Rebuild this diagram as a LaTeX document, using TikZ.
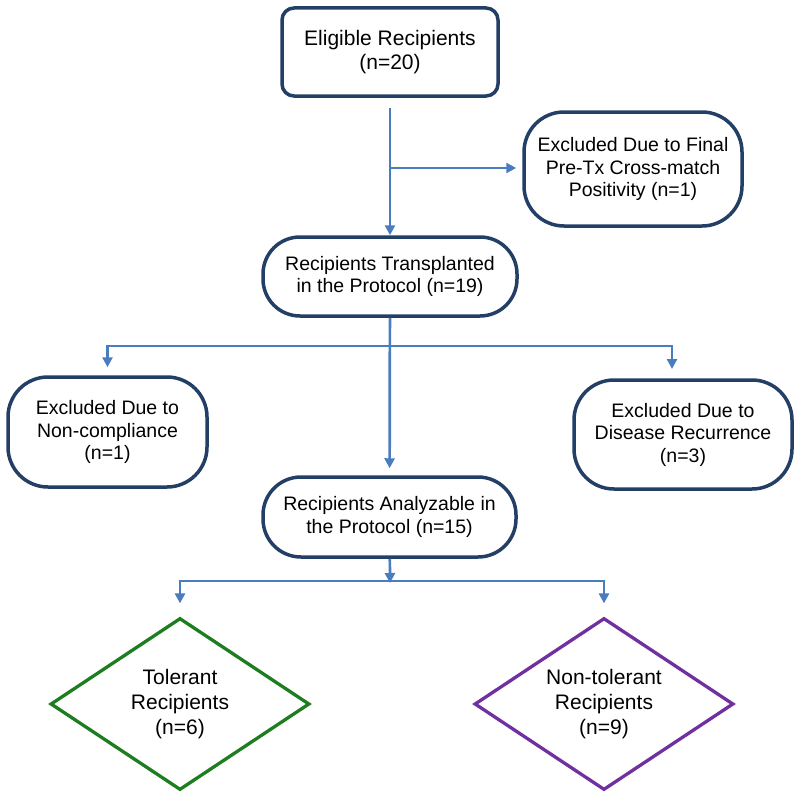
\documentclass[tikz,border=0pt]{standalone}
\usepackage{fontspec}
\setmainfont{Liberation Sans}
\usetikzlibrary{arrows.meta,shapes.geometric}
\definecolor{navy}{HTML}{233F66}
\definecolor{flow}{HTML}{4A7DC0}
\definecolor{tolgreen}{HTML}{1E7D1E}
\definecolor{ntpurple}{HTML}{7030A0}
\tikzset{
  box/.style={draw=navy, line width=3.5pt, rectangle, align=center, inner sep=0pt, text=black,
    font=\fontsize{19.5}{22.5}\selectfont},
  dia/.style={diamond, line width=3.3pt, align=center, inner sep=0pt, aspect=1.5,
    minimum width=259pt, minimum height=172pt, font=\fontsize{21}{25}\selectfont},
  arr/.style={draw=flow, line width=2.7pt, -{Triangle[length=10pt,width=10pt]}}
}
\begin{document}
\begin{tikzpicture}[x=1pt,y=-1pt]
\useasboundingbox (0,0) rectangle (800,800);
\node[box, rounded corners=12pt, minimum width=216pt, minimum height=88pt,
  font=\fontsize{21}{24}\selectfont] (e) at (390,52) {Eligible Recipients\\(n=20)};
\node[box, rounded corners=40pt, minimum width=218pt, minimum height=114pt] (xf) at (633,169)
  {Excluded Due to Final\\Pre-Tx Cross-match\\Positivity (n=1)};
\node[box, rounded corners=37pt, minimum width=254pt, minimum height=79pt] (t) at (390,276.5)
  {Recipients Transplanted\\in the Protocol (n=19)};
\node[box, rounded corners=40pt, minimum width=199pt, minimum height=110pt] (nc) at (107.5,432)
  {Excluded Due to\\Non-compliance\\(n=1)};
\node[box, rounded corners=40pt, minimum width=218pt, minimum height=109pt] (dr) at (683,434.5)
  {Excluded Due to\\Disease Recurrence\\(n=3)};
\node[box, rounded corners=38pt, minimum width=253pt, minimum height=80pt] (an) at (389.5,517)
  {Recipients Analyzable in\\the Protocol (n=15)};
\node[dia, draw=tolgreen] (tol) at (180,704) {Tolerant\\Recipients\\(n=6)};
\node[dia, draw=ntpurple] (nt) at (604,704) {Non-tolerant\\Recipients\\(n=9)};

\coordinate (b1) at (390,168);
\coordinate (b2) at (390,346);
\coordinate (b3) at (390,581);
\coordinate (rt) at (672,380);

\draw[arr, shorten <=10pt] (e) -- (t);
\draw[arr, shorten >=6pt] (b1) -- (b1 -| xf.west);
\draw[arr, shorten >=7pt] (t) -- (an);
\draw[arr, shorten >=8pt] (b2) -| (nc.north);
\draw[arr, shorten >=11pt] (b2) -| (rt);
\draw[arr, shorten >=-2pt] (an) -- (b3);
\draw[arr, shorten >=13pt] (b3) -| (tol.north);
\draw[arr, shorten >=13pt] (b3) -| (nt.north);
\end{tikzpicture}
\end{document}
